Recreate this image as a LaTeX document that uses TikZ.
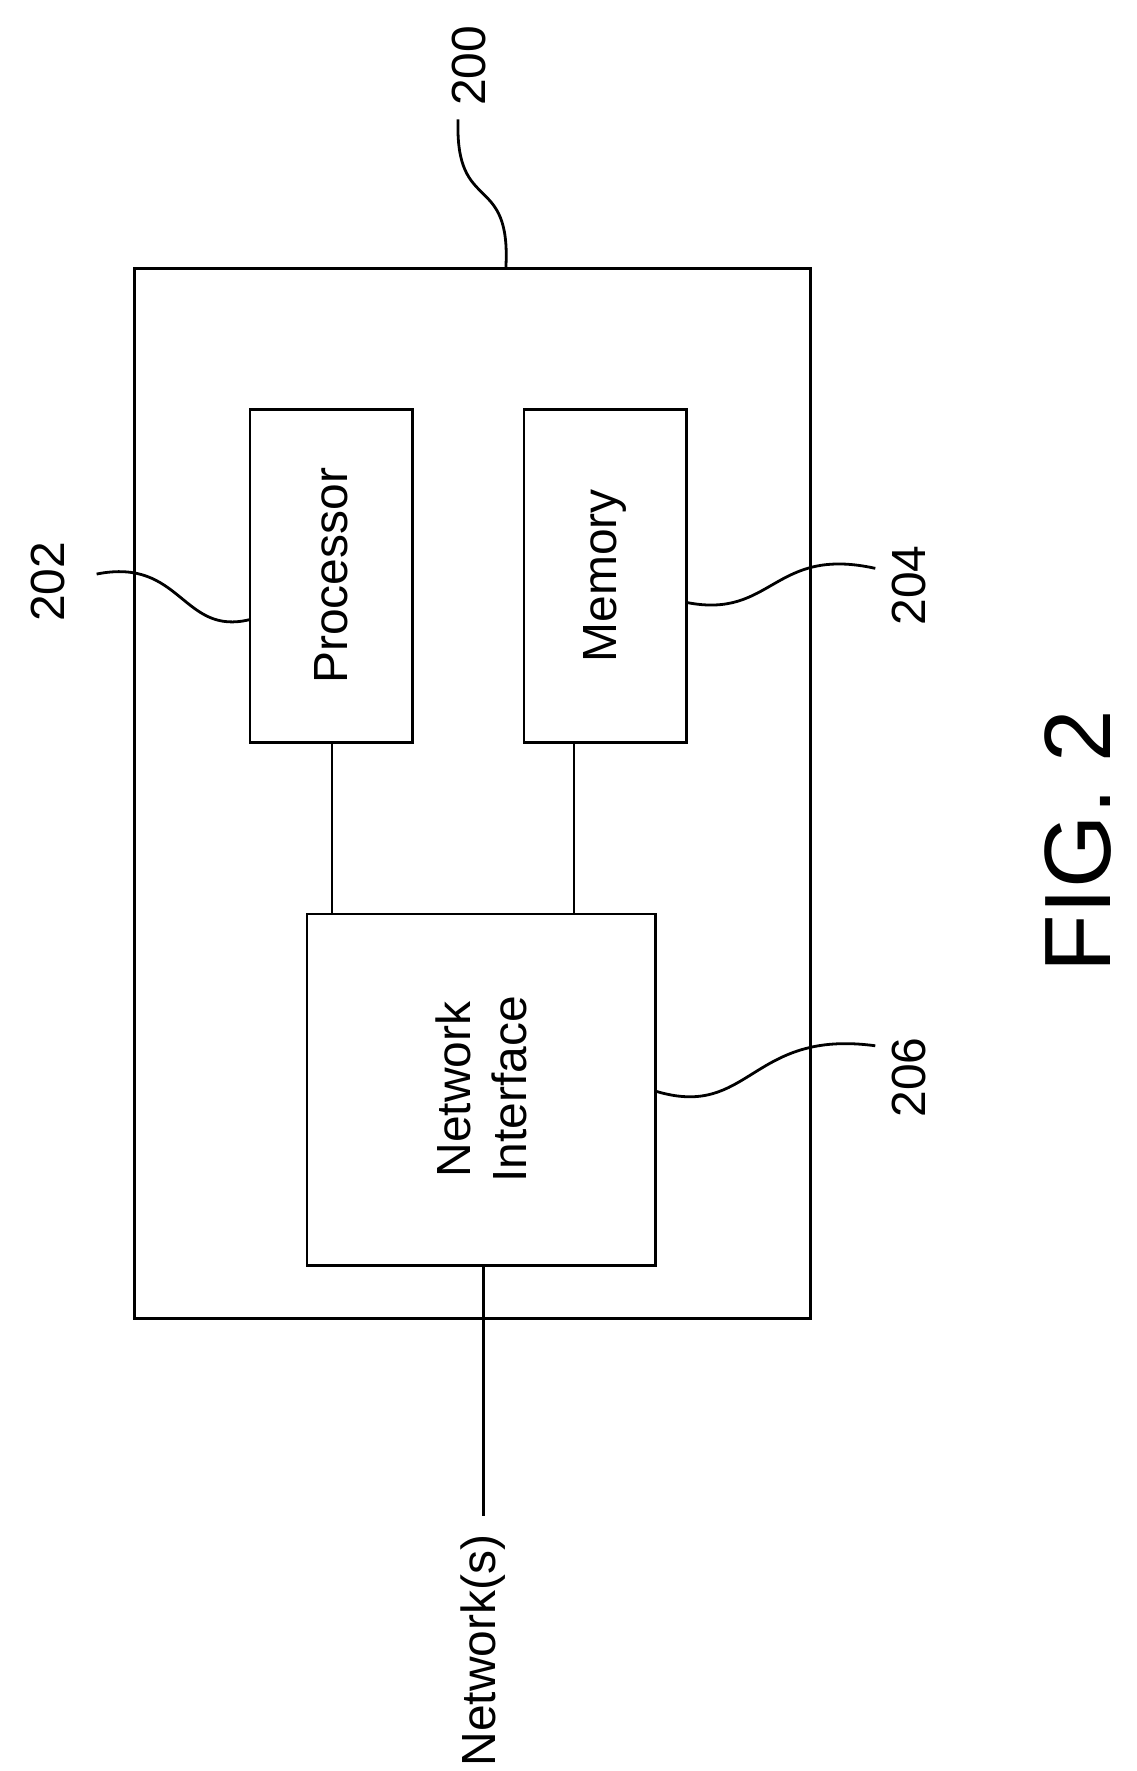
\documentclass[tikz,border=0pt]{standalone}
\usepackage{fontspec}
\setmainfont{Liberation Sans}
\begin{document}
\begin{tikzpicture}[x=0.05cm,y=-0.05cm,
  box/.style={draw,line width=3.5pt,inner sep=0},
  lbl/.style={rotate=90,font=\fontsize{60}{70}\selectfont,align=center},
  ln/.style={line width=3.5pt}]
\useasboundingbox (0,0) rectangle (1000,1558);
\node[box,minimum width=595*0.05cm,minimum height=924*0.05cm] (outer) at (415.5,698) {};
\node[box,minimum width=143*0.05cm,minimum height=293*0.05cm] (proc) at (291.5,506.5) {};
\node[lbl] at (proc.center) {Processor};
\node[box,minimum width=143*0.05cm,minimum height=293*0.05cm] (mem) at (532.5,506.5) {};
\node[lbl] at (mem.center) {Memory};
\node[box,minimum width=307*0.05cm,minimum height=309*0.05cm] (ni) at (423.5,958.5) {};
\node[lbl] at (ni.center) {Network\\Interface};
\draw[ln] (292,653) -- (292,804);
\draw[ln] (505,653) -- (505,804);
\node[lbl,anchor=west,inner sep=0pt] (net) at (425,1554) {Network(s)};
\draw[ln] (425,1113) -- ([yshift=0.8cm]net.east);
\node[lbl] (l200) at (413,58) {200};
\node[lbl] (l202) at (42,512) {202};
\node[lbl] (l204) at (800,515) {204};
\node[lbl] (l206) at (800,948) {206};
\node[rotate=90,font=\fontsize{118}{128}\selectfont] (fig) at (948,740) {FIG. 2};
\draw[ln] (445,236) .. controls (450,150) and (400,190) .. (403,105);
\draw[ln] (220,545) .. controls (160,560) and (160,490) .. (85,505);
\draw[ln] (604,530) .. controls (680,545) and (680,480) .. (770,500);
\draw[ln] (577,960) .. controls (660,985) and (660,905) .. (770,920);
\end{tikzpicture}
\end{document}
